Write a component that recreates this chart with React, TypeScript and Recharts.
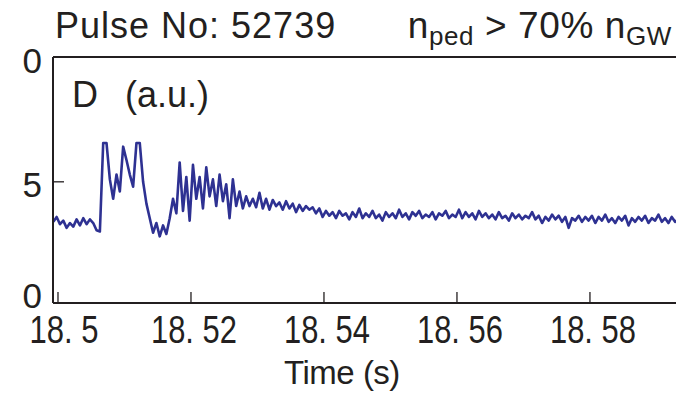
import { Line, LineChart, ReferenceLine, XAxis, YAxis } from "recharts"

// D-alpha signal, sampled every 0.5 ms starting at 18.4993 s
const startTime = 18.4993
const sampleStep = 0.0005
const dValues = [
  3.35, 3.55, 3.25, 3.4, 3.1, 3.3, 3.15, 3.45, 3.2, 3.5, 3.25, 3.45, 3.3, 3.0, 2.95,
  6.6, 6.6, 5.1, 4.3, 5.3, 4.6, 6.45, 5.9, 5.3, 4.8, 6.6, 6.6, 5.0, 4.1, 3.5,
  2.9, 3.3, 2.75, 3.2, 2.85, 3.5, 4.3, 3.7, 5.8, 3.8, 5.2, 3.4, 5.7, 4.3, 5.2,
  3.9, 5.6, 4.4, 5.1, 4.0, 5.3, 4.2, 4.9, 3.5, 5.1, 4.0, 4.6, 3.9, 4.4, 4.0,
  4.3, 3.95, 4.55, 3.9, 4.3, 3.85, 4.25, 4.0, 4.15, 3.85, 4.2, 3.9, 4.1, 3.75, 4.05,
  3.8, 4.0, 3.85, 3.95, 3.7, 3.9, 3.55, 3.8, 3.6, 3.75, 3.5, 3.8, 3.6, 3.7, 3.45,
  3.75, 3.55, 3.9, 3.5, 3.7, 3.55, 3.8, 3.5, 3.65, 3.4, 3.75, 3.55, 3.7, 3.5, 3.85,
  3.55, 3.7, 3.45, 3.75, 3.6, 3.8, 3.5, 3.65, 3.55, 3.75, 3.45, 3.7, 3.6, 3.8, 3.5,
  3.65, 3.55, 3.85, 3.5, 3.75, 3.55, 3.7, 3.45, 3.8, 3.55, 3.7, 3.5, 3.65, 3.45, 3.75,
  3.5, 3.6, 3.4, 3.7, 3.5, 3.65, 3.45, 3.6, 3.5, 3.75, 3.45, 3.6, 3.3, 3.55, 3.4,
  3.65, 3.45, 3.6, 3.35, 3.55, 3.1, 3.5, 3.4, 3.6, 3.35, 3.55, 3.4, 3.6, 3.3, 3.55,
  3.4, 3.65, 3.35, 3.5, 3.3, 3.55, 3.4, 3.6, 3.2, 3.5, 3.35, 3.55, 3.4, 3.6, 3.3,
  3.5, 3.4, 3.65, 3.35, 3.5, 3.3, 3.55, 3.35, 3.45,
]

const xTicks = [18.5, 18.52, 18.54, 18.56, 18.58]
const xTickLabels = ["18. 5", "18. 52", "18. 54", "18. 56", "18. 58"]
const yTicks = [0, 5, 10]
const yTickLabels = ["0", "5", "0"]

const data = dValues.map((d, i) => ({ t: startTime + i * sampleStep, d }))

const W = 676
const H = 398
const TOP = 57
const X_AXIS_H = 95
const BOTTOM = H - X_AXIS_H
const LEFT = 53
const Y_MAX = 10.15
const INK = "#231f20"
const FONT = "'Liberation Sans', Arial, Helvetica, sans-serif"

function XTick(props: any) {
  const { x, payload } = props
  const idx = xTicks.indexOf(payload.value)
  const label = xTickLabels[idx] ?? ""
  const digits = label.replace(/[^0-9]/g, "").length
  const shift = digits < 4 ? 6 : 3
  return (
    <g>
      <line x1={x} x2={x} y1={BOTTOM} y2={BOTTOM - 11} stroke={INK} strokeWidth={1.3} />
      <text
        x={x + shift}
        y={343}
        textAnchor="middle"
        fontSize={38}
        fontFamily={FONT}
        fill={INK}
        textLength={digits * 17 + 18}
        lengthAdjust="spacingAndGlyphs"
      >
        {label}
      </text>
    </g>
  )
}

const yLabelShift: Record<number, number> = { 0: 4.5, 5: 15.5, 10: 12.5 }

function YTick(props: any) {
  const { y, payload } = props
  const idx = yTicks.indexOf(payload.value)
  return (
    <g>
      {payload.value === 5 && (
        <line x1={LEFT} x2={LEFT + 11} y1={y} y2={y} stroke={INK} strokeWidth={1.3} />
      )}
      <text
        x={42}
        y={y + (yLabelShift[payload.value] ?? 12)}
        textAnchor="end"
        fontSize={35}
        fontFamily={FONT}
        fill={INK}
      >
        {yTickLabels[idx]}
      </text>
    </g>
  )
}

export default function App() {
  return (
    <div
      style={{
        position: "absolute",
        left: 0,
        top: 0,
        width: W,
        height: H,
        overflow: "hidden",
        background: "#fff",
      }}
    >
      <LineChart width={W} height={H} data={data} margin={{ top: TOP, right: 0, bottom: 0, left: 0 }}>
        <XAxis
          dataKey="t"
          type="number"
          domain={[18.49925, 18.59294]}
          allowDataOverflow
          ticks={xTicks}
          interval={0}
          height={X_AXIS_H}
          axisLine={{ stroke: INK, strokeWidth: 2 }}
          tickLine={false}
          tick={<XTick />}
        />
        <YAxis
          type="number"
          domain={[0, Y_MAX]}
          allowDataOverflow
          ticks={yTicks}
          interval={0}
          width={LEFT}
          axisLine={{ stroke: INK, strokeWidth: 2 }}
          tickLine={false}
          tick={<YTick />}
        />
        <ReferenceLine y={Y_MAX} stroke={INK} strokeWidth={2} ifOverflow="visible" />
        <Line
          type="linear"
          dataKey="d"
          stroke="#2e3192"
          strokeWidth={2.6}
          strokeLinejoin="round"
          dot={false}
          isAnimationActive={false}
        />
        <text x={55} y={37.5} fontSize={36} fontFamily={FONT} fill={INK} letterSpacing={1}>
          Pulse No: 52739
        </text>
        <text x={672} y={37.5} textAnchor="end" fontSize={37} fontFamily={FONT} fill={INK} letterSpacing={0.6}>
          <tspan>n</tspan>
          <tspan fontSize={26} dy={7}>ped</tspan>
          <tspan dy={-7}> &gt; 70% n</tspan>
          <tspan fontSize={26} dy={7}>GW</tspan>
        </text>
        <text x={72} y={107} fontSize={36} fontFamily={FONT} fill={INK}>
          D
        </text>
        <text x={125} y={107} fontSize={36} fontFamily={FONT} fill={INK}>
          (a.u.)
        </text>
        <text x={342} y={384} textAnchor="middle" fontSize={33} fontFamily={FONT} fill={INK} letterSpacing={-0.5}>
          Time (s)
        </text>
      </LineChart>
    </div>
  )
}
